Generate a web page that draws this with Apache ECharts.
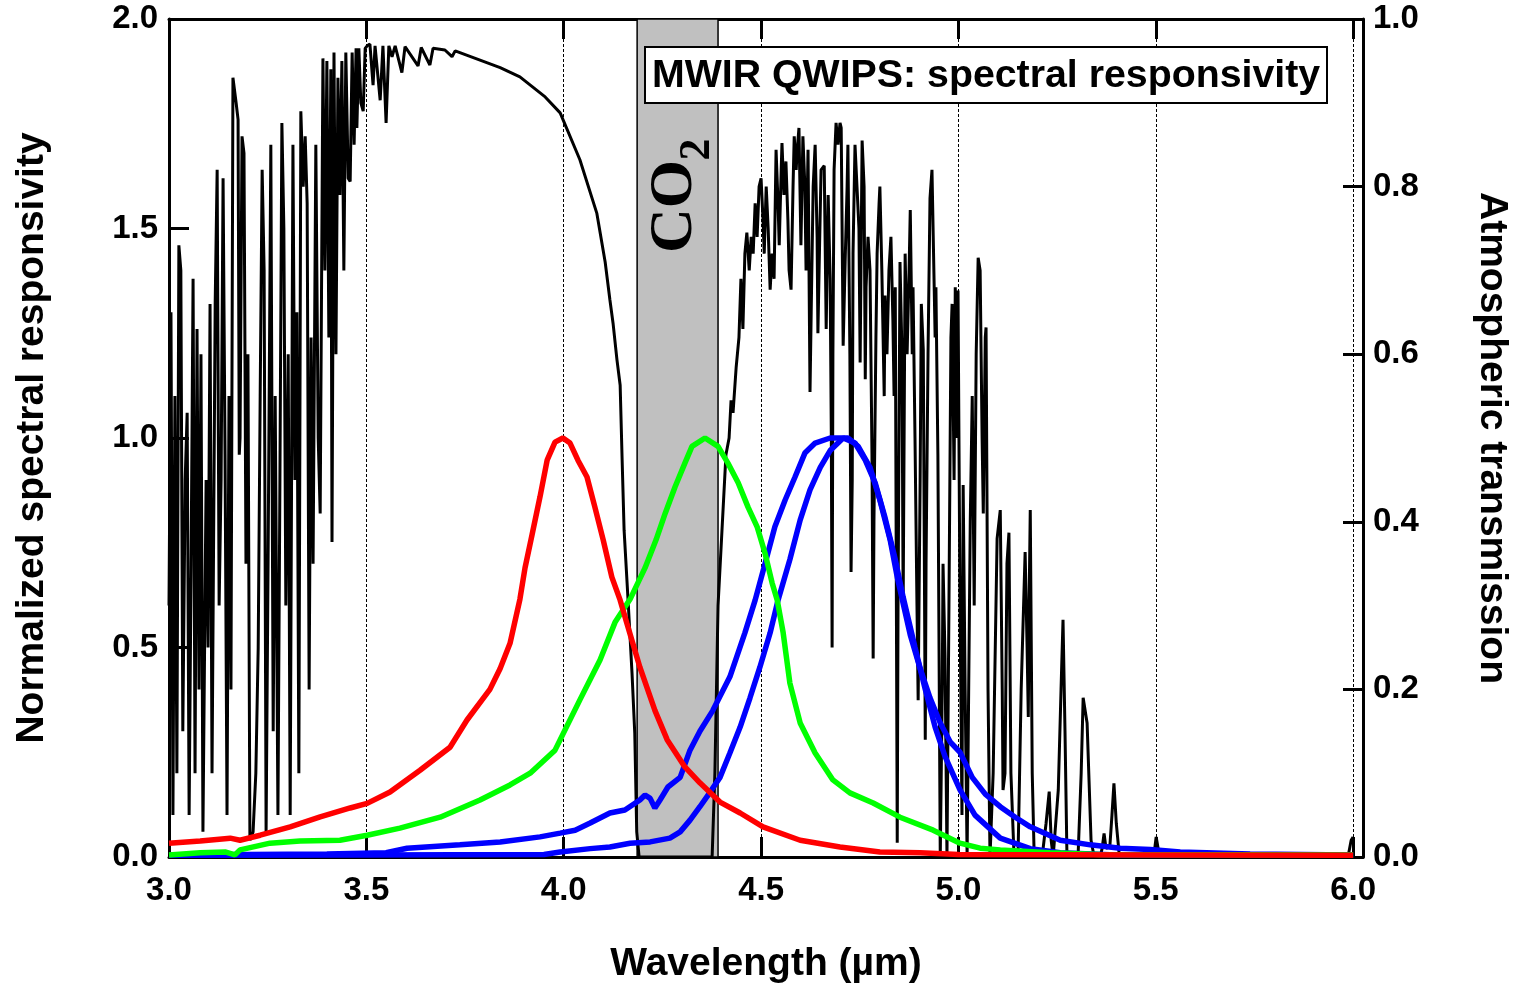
<!DOCTYPE html>
<html>
<head>
<meta charset="utf-8">
<script src="https://cdn.jsdelivr.net/npm/echarts@6/dist/echarts.min.js"></script>
<style>
  html, body { margin: 0; padding: 0; background: #fff; }
  #chart { width: 1520px; height: 986px; }
</style>
</head>
<body>
<div id="chart"></div>
<script>
// ---------------- data ----------------
const xTicks = { min: 3.0, max: 6.025, interval: 0.5 };
const leftTicks = { min: 0, max: 2, interval: 0.5 };
const rightTicks = { min: 0, max: 1, interval: 0.2 };

const chartTitle = 'MWIR QWIPS: spectral responsivity';
const xName = 'Wavelength (\u00b5m)';
const leftName = 'Normalized spectral responsivity';
const rightName = 'Atmospheric transmission';

// CO2 absorption band [start, end] in µm, and its label anchor (µm, left-axis units)
const co2Band = [4.186, 4.391];
const co2LabelAnchor = [4.281, 1.5525];

// atmospheric transmission [wavelength µm, transmission] (right axis)
const transmission = [
[3.000,0.30],[3.005,0.65],[3.010,0.05],[3.015,0.55],[3.020,0.10],[3.025,0.73],[3.030,0.70],[3.035,0.15],[3.041,0.45],[3.046,0.53],
[3.051,0.05],[3.056,0.35],[3.061,0.69],[3.066,0.10],[3.071,0.63],[3.076,0.20],[3.081,0.60],[3.086,0.03],[3.094,0.45],[3.099,0.25],
[3.104,0.66],[3.109,0.10],[3.117,0.66],[3.122,0.82],[3.127,0.30],[3.132,0.45],[3.137,0.81],[3.142,0.48],[3.147,0.05],[3.152,0.55],
[3.157,0.20],[3.162,0.93],[3.170,0.90],[3.175,0.88],[3.178,0.48],[3.180,0.50],[3.185,0.86],[3.190,0.84],[3.195,0.35],[3.200,0.60],
[3.205,0.02],[3.213,0.03],[3.220,0.10],[3.226,0.25],[3.231,0.55],[3.236,0.82],[3.241,0.70],[3.246,0.03],[3.251,0.35],[3.258,0.85],
[3.264,0.15],[3.269,0.55],[3.276,0.05],[3.281,0.45],[3.286,0.876],[3.291,0.75],[3.296,0.30],[3.302,0.60],[3.307,0.05],[3.314,0.85],
[3.319,0.45],[3.324,0.65],[3.329,0.10],[3.334,0.89],[3.340,0.80],[3.345,0.86],[3.350,0.78],[3.355,0.20],[3.360,0.62],[3.365,0.35],
[3.372,0.85],[3.378,0.50],[3.383,0.41],[3.390,0.953],[3.395,0.70],[3.400,0.95],[3.405,0.62],[3.410,0.94],[3.413,0.376],[3.418,0.96],
[3.423,0.60],[3.428,0.93],[3.433,0.79],[3.438,0.95],[3.443,0.70],[3.448,0.96],[3.454,0.81],[3.459,0.806],[3.464,0.96],[3.469,0.85],
[3.474,0.965],[3.476,0.87],[3.481,0.965],[3.486,0.90],[3.492,0.89],[3.497,0.965],[3.502,0.968],[3.509,0.97],[3.517,0.921],[3.522,0.968],
[3.535,0.903],[3.542,0.968],[3.550,0.876],[3.557,0.968],[3.565,0.955],[3.573,0.968],[3.590,0.936],[3.598,0.967],[3.631,0.944],[3.639,0.966],
[3.661,0.945],[3.669,0.965],[3.699,0.963],[3.717,0.955],[3.725,0.962],[3.788,0.951],[3.839,0.942],[3.889,0.931],[3.953,0.907],[3.991,0.888],
[4.041,0.832],[4.084,0.768],[4.105,0.71],[4.117,0.665],[4.125,0.637],[4.135,0.593],[4.143,0.563],[4.148,0.474],[4.153,0.39],[4.163,0.307],
[4.173,0.22],[4.180,0.148],[4.185,0.03],[4.191,0.0],[4.376,0.0],[4.383,0.10],[4.391,0.30],[4.401,0.39],[4.411,0.48],[4.419,0.50],
[4.424,0.545],[4.429,0.53],[4.437,0.585],[4.444,0.62],[4.449,0.69],[4.454,0.63],[4.459,0.72],[4.464,0.745],[4.470,0.70],[4.475,0.74],
[4.480,0.72],[4.485,0.78],[4.490,0.74],[4.495,0.80],[4.500,0.81],[4.505,0.76],[4.508,0.72],[4.513,0.80],[4.518,0.75],[4.523,0.677],
[4.528,0.72],[4.533,0.69],[4.538,0.844],[4.543,0.78],[4.546,0.73],[4.551,0.82],[4.553,0.852],[4.558,0.79],[4.563,0.83],[4.568,0.76],
[4.571,0.70],[4.576,0.677],[4.581,0.80],[4.584,0.86],[4.589,0.82],[4.591,0.84],[4.596,0.87],[4.601,0.73],[4.606,0.86],[4.611,0.80],
[4.614,0.70],[4.619,0.844],[4.624,0.555],[4.627,0.65],[4.632,0.80],[4.637,0.85],[4.642,0.74],[4.644,0.625],[4.647,0.70],[4.652,0.82],
[4.660,0.825],[4.665,0.63],[4.670,0.79],[4.675,0.69],[4.678,0.50],[4.680,0.25],[4.682,0.60],[4.685,0.82],[4.690,0.876],[4.695,0.85],
[4.700,0.876],[4.703,0.87],[4.708,0.61],[4.713,0.71],[4.718,0.80],[4.720,0.85],[4.725,0.60],[4.728,0.34],[4.731,0.45],[4.733,0.72],
[4.738,0.85],[4.743,0.80],[4.748,0.75],[4.751,0.59],[4.756,0.855],[4.761,0.80],[4.764,0.57],[4.766,0.68],[4.771,0.74],[4.776,0.70],
[4.781,0.48],[4.784,0.237],[4.786,0.40],[4.791,0.62],[4.794,0.72],[4.799,0.78],[4.801,0.80],[4.806,0.70],[4.812,0.55],[4.814,0.67],
[4.819,0.60],[4.824,0.70],[4.829,0.74],[4.834,0.64],[4.837,0.55],[4.840,0.68],[4.845,0.017],[4.847,0.30],[4.852,0.71],[4.857,0.60],
[4.860,0.30],[4.865,0.72],[4.870,0.60],[4.875,0.70],[4.878,0.772],[4.883,0.60],[4.885,0.68],[4.890,0.50],[4.895,0.30],[4.898,0.187],
[4.903,0.45],[4.906,0.66],[4.911,0.605],[4.916,0.14],[4.918,0.35],[4.923,0.60],[4.928,0.786],[4.933,0.82],[4.936,0.82],[4.941,0.62],
[4.943,0.68],[4.948,0.48],[4.954,0.0],[4.959,0.20],[4.961,0.35],[4.966,0.24],[4.971,0.0],[4.976,0.30],[4.981,0.62],[4.984,0.66],
[4.989,0.45],[4.992,0.68],[4.997,0.50],[4.999,0.676],[5.004,0.30],[5.009,0.05],[5.012,0.444],[5.017,0.20],[5.022,0.0],[5.030,0.40],
[5.035,0.55],[5.040,0.30],[5.045,0.60],[5.050,0.715],[5.055,0.70],[5.060,0.50],[5.063,0.41],[5.068,0.62],[5.070,0.632],[5.075,0.20],
[5.080,0.0],[5.088,0.10],[5.098,0.38],[5.106,0.414],[5.111,0.20],[5.113,0.08],[5.118,0.10],[5.123,0.35],[5.128,0.387],[5.133,0.10],
[5.141,0.0],[5.151,0.0],[5.159,0.20],[5.169,0.364],[5.174,0.25],[5.177,0.167],[5.179,0.30],[5.182,0.414],[5.187,0.10],[5.192,0.0],
[5.199,0.005],[5.212,0.0],[5.222,0.04],[5.230,0.078],[5.235,0.02],[5.240,0.0],[5.253,0.08],[5.260,0.20],[5.265,0.283],[5.270,0.15],
[5.275,0.0],[5.288,0.0],[5.303,0.0],[5.311,0.10],[5.316,0.19],[5.321,0.19],[5.326,0.16],[5.331,0.09],[5.336,0.02],[5.344,0.0],
[5.359,0.0],[5.364,0.01],[5.369,0.028],[5.374,0.01],[5.384,0.015],[5.389,0.05],[5.394,0.088],[5.400,0.04],[5.407,0.005],[5.422,0.0],
[5.486,0.0],[5.496,0.005],[5.501,0.024],[5.506,0.01],[5.516,0.002],[5.612,0.001],[5.866,0.0],[5.987,0.0],[5.995,0.02],[6.000,0.024]
];

// normalized spectral responsivity [wavelength µm, value] (left axis)
const redQwip = [
[3.000,0.033],[3.079,0.038],[3.155,0.045],[3.180,0.040],[3.231,0.052],[3.307,0.072],[3.383,0.096],[3.459,0.117],[3.502,0.128],
[3.560,0.155],[3.636,0.207],[3.712,0.262],[3.755,0.327],[3.813,0.40],[3.839,0.45],[3.864,0.51],[3.889,0.615],[3.902,0.69],
[3.920,0.77],[3.940,0.86],[3.958,0.947],[3.978,0.99],[3.998,1.0],[4.016,0.988],[4.036,0.947],[4.059,0.907],[4.079,0.835],
[4.100,0.757],[4.122,0.668],[4.143,0.613],[4.160,0.558],[4.193,0.453],[4.231,0.35],[4.262,0.28],[4.307,0.215],[4.345,0.177],
[4.396,0.131],[4.447,0.105],[4.505,0.072],[4.599,0.04],[4.700,0.024],[4.801,0.012],[4.903,0.01],[5.000,0.006],[5.500,0.005],[6.000,0.004]
];
const greenQwip = [
[3.000,0.005],[3.079,0.010],[3.142,0.012],[3.167,0.005],[3.180,0.017],[3.256,0.033],[3.332,0.038],[3.433,0.040],[3.502,0.052],
[3.585,0.069],[3.687,0.095],[3.788,0.136],[3.864,0.172],[3.915,0.20],[3.978,0.255],[4.041,0.375],[4.092,0.47],[4.130,0.56],
[4.168,0.615],[4.206,0.69],[4.234,0.757],[4.257,0.82],[4.282,0.883],[4.307,0.94],[4.325,0.98],[4.358,1.0],[4.391,0.98],
[4.416,0.94],[4.442,0.893],[4.467,0.835],[4.490,0.788],[4.510,0.725],[4.528,0.654],[4.541,0.613],[4.556,0.535],[4.573,0.415],
[4.599,0.32],[4.637,0.248],[4.682,0.184],[4.725,0.153],[4.784,0.129],[4.852,0.095],[4.936,0.064],[5.004,0.033],[5.055,0.021],
[5.106,0.017],[5.232,0.010],[5.359,0.006],[6.000,0.005]
];
const blueQwipA = [
[3.000,0.005],[3.200,0.006],[3.400,0.007],[3.550,0.010],[3.603,0.021],[3.737,0.029],[3.839,0.036],[3.940,0.048],[3.991,0.057],
[4.029,0.064],[4.067,0.081],[4.117,0.105],[4.155,0.112],[4.193,0.136],[4.206,0.148],[4.219,0.14],[4.231,0.117],[4.244,0.136],
[4.264,0.167],[4.295,0.19],[4.320,0.255],[4.345,0.30],[4.378,0.35],[4.421,0.43],[4.459,0.535],[4.485,0.613],[4.510,0.70],
[4.535,0.788],[4.561,0.852],[4.586,0.907],[4.611,0.964],[4.637,0.988],[4.675,1.0],[4.720,1.0],[4.746,0.98],[4.776,0.93],
[4.801,0.852],[4.827,0.757],[4.845,0.668],[4.878,0.53],[4.903,0.45],[4.928,0.38],[4.954,0.32],[4.979,0.275],[5.004,0.25],
[5.035,0.19],[5.068,0.15],[5.106,0.12],[5.144,0.095],[5.182,0.072],[5.258,0.04],[5.334,0.029],[5.410,0.021],[5.486,0.018],
[5.562,0.012],[5.739,0.007],[6.000,0.005]
];
const blueQwipB = [
[3.000,0.004],[3.500,0.005],[3.950,0.006],[3.991,0.012],[4.067,0.020],[4.117,0.024],[4.168,0.033],[4.219,0.036],[4.269,0.045],
[4.295,0.06],[4.320,0.088],[4.345,0.12],[4.371,0.155],[4.396,0.19],[4.421,0.248],[4.447,0.31],[4.472,0.38],[4.497,0.453],
[4.523,0.535],[4.543,0.613],[4.573,0.71],[4.599,0.804],[4.624,0.876],[4.650,0.93],[4.675,0.97],[4.708,1.0],[4.738,0.988],
[4.764,0.947],[4.789,0.893],[4.814,0.81],[4.840,0.71],[4.860,0.62],[4.890,0.50],[4.916,0.40],[4.941,0.31],[4.966,0.24],
[5.004,0.16],[5.042,0.10],[5.106,0.045],[5.182,0.02],[5.258,0.01],[5.400,0.005],[6.000,0.004]
];

// ---------------- chart ----------------
const FONT = "'Liberation Sans', Arial, Helvetica, sans-serif";
const SERIF = "'Liberation Serif', 'Times New Roman', Times, serif";
const fmt1 = v => (Math.abs(v * 2 - Math.round(v * 2)) < 1e-6 ? v.toFixed(1) : '');

const chart = echarts.init(document.getElementById('chart'), null, { renderer: 'canvas' });

const axisLineStyle = { show: true, onZero: false, lineStyle: { color: '#000', width: 3 } };
const tickStyle = { show: true, inside: true, length: 20, lineStyle: { color: '#000', width: 3 } };
const labelStyle = { color: '#000', fontSize: 33, fontWeight: 'bold', fontFamily: FONT };
const nameStyle = { color: '#000', fontSize: 39, fontWeight: 'bold', fontFamily: FONT };

function curve(name, data, color) {
  return {
    type: 'line', name, data, xAxisIndex: 0, yAxisIndex: 0,
    showSymbol: false, symbol: 'none', clip: false, z: 3,
    lineStyle: { color, width: 5.5 }, emphasis: { disabled: true }
  };
}

const option = {
  animation: false,
  backgroundColor: '#fff',
  title: {
    text: chartTitle,
    left: 645, top: 47,
    padding: [6, 7, 4, 7],
    backgroundColor: '#fff',
    borderColor: '#000', borderWidth: 2,
    textStyle: { color: '#000', fontSize: 39.3, fontWeight: 'bold', fontFamily: FONT, lineHeight: 46 }
  },
  grid: { left: 169, right: 157, top: 19, bottom: 129, containLabel: false, outerBoundsMode: 'none' },
  xAxis: [
    {
      type: 'value', position: 'bottom', min: xTicks.min, max: xTicks.max, interval: xTicks.interval,
      axisLine: axisLineStyle, axisTick: tickStyle,
      axisLabel: Object.assign({ margin: 17, formatter: fmt1 }, labelStyle),
      splitLine: { show: true, lineStyle: { color: '#000', width: 1, type: [3, 2] } },
      name: xName, nameLocation: 'middle', nameGap: 88, nameTextStyle: nameStyle
    },
    {
      type: 'value', position: 'top', min: xTicks.min, max: xTicks.max, interval: xTicks.interval,
      axisLine: axisLineStyle, axisTick: tickStyle,
      axisLabel: { show: false }, splitLine: { show: false }
    }
  ],
  yAxis: [
    {
      type: 'value', position: 'left', min: leftTicks.min, max: leftTicks.max, interval: leftTicks.interval,
      axisLine: axisLineStyle, axisTick: tickStyle,
      axisLabel: Object.assign({ margin: 11, formatter: v => v.toFixed(1) }, labelStyle),
      splitLine: { show: false },
      name: leftName, nameLocation: 'middle', nameRotate: 90, nameGap: 117, nameTextStyle: nameStyle
    },
    {
      type: 'value', position: 'right', min: rightTicks.min, max: rightTicks.max, interval: rightTicks.interval,
      axisLine: axisLineStyle, axisTick: tickStyle,
      axisLabel: Object.assign({ margin: 10, formatter: v => v.toFixed(1) }, labelStyle),
      splitLine: { show: false },
      name: rightName, nameLocation: 'middle', nameRotate: -90, nameGap: 109, nameTextStyle: nameStyle
    }
  ],
  series: [
    {
      type: 'custom', name: 'CO2', xAxisIndex: 0, yAxisIndex: 0, z: 1, silent: true,
      data: [co2Band],
      renderItem: function (params, api) {
        const top = api.coord([api.value(0), leftTicks.max]);
        const bot = api.coord([api.value(1), leftTicks.min]);
        const lab = api.coord(co2LabelAnchor);
        return {
          type: 'group',
          children: [
            {
              type: 'rect',
              shape: { x: top[0], y: top[1], width: bot[0] - top[0], height: bot[1] - top[1] },
              style: { fill: '#c0c0c0', stroke: '#000', lineWidth: 1.5 }
            },
            {
              type: 'text', x: lab[0], y: lab[1], rotation: Math.PI / 2,
              style: {
                text: 'CO', align: 'center', verticalAlign: 'middle',
                fontSize: 62, fontWeight: 'bold', fontFamily: SERIF, fill: '#000'
              }
            },
            {
              type: 'text', x: lab[0] + 23, y: lab[1] - 57, rotation: Math.PI / 2,
              style: {
                text: '2', align: 'center', verticalAlign: 'middle',
                fontSize: 44, fontWeight: 'bold', fontFamily: SERIF, fill: '#000'
              }
            }
          ]
        };
      }
    },
    {
      type: 'line', name: 'Atmospheric transmission', data: transmission, xAxisIndex: 0, yAxisIndex: 1,
      showSymbol: false, symbol: 'none', z: 2,
      lineStyle: { color: '#000', width: 3 }, emphasis: { disabled: true }
    },
    curve('QWIP blue A', blueQwipA, '#0000ff'),
    curve('QWIP blue B', blueQwipB, '#0000ff'),
    curve('QWIP green', greenQwip, '#00ff00'),
    curve('QWIP red', redQwip, '#ff0000')
  ]
};

chart.setOption(option);
</script>
</body>
</html>
